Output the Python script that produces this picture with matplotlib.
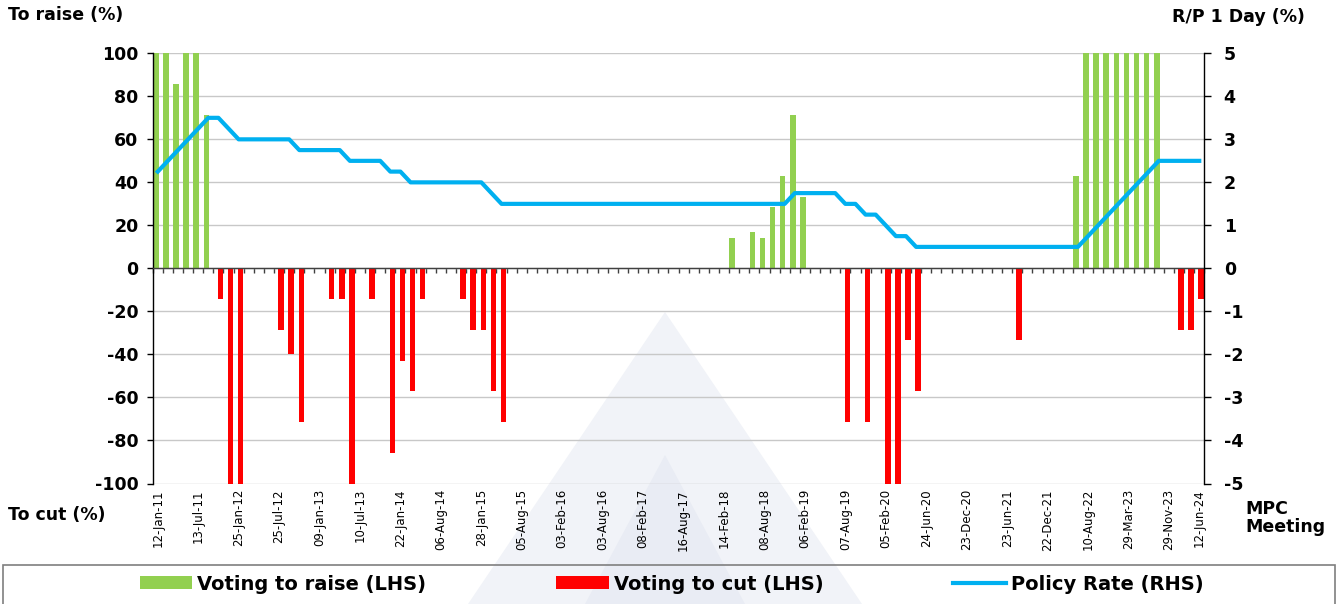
import matplotlib
matplotlib.use("Agg")
import matplotlib.pyplot as plt
from matplotlib.patches import Rectangle, Patch, Polygon
from matplotlib.lines import Line2D

plt.rcParams['font.family'] = ['DejaVu Sans']
plt.rcParams['axes.unicode_minus'] = False

# ---------------- data ----------------
# MPC meetings (104 meetings, Jan-2011 .. Jun-2024); labels shown at these meeting indices
label_index = [0, 4, 8, 12, 16, 20, 24, 28, 32, 36, 40, 44, 48, 52, 56, 60, 64,
               68, 72, 76, 80, 84, 88, 92, 96, 100, 103]
label_text = ['12-Jan-11', '13-Jul-11', '25-Jan-12', '25-Jul-12', '09-Jan-13', '10-Jul-13',
              '22-Jan-14', '06-Aug-14', '28-Jan-15', '05-Aug-15', '03-Feb-16', '03-Aug-16',
              '08-Feb-17', '16-Aug-17', '14-Feb-18', '08-Aug-18', '06-Feb-19', '07-Aug-19',
              '05-Feb-20', '24-Jun-20', '23-Dec-20', '23-Jun-21', '22-Dec-21', '10-Aug-22',
              '29-Mar-23', '29-Nov-23', '12-Jun-24']

# share of MPC members voting to raise (%)
voting_raise = [
    100, 100, 85.7, 100, 100, 71.4, 0, 0, 0, 0,          # 0-9
    0, 0, 0, 0, 0, 0, 0, 0, 0, 0,                        # 10-19
    0, 0, 0, 0, 0, 0, 0, 0, 0, 0,                        # 20-29
    0, 0, 0, 0, 0, 0, 0, 0, 0, 0,                        # 30-39
    0, 0, 0, 0, 0, 0, 0, 0, 0, 0,                        # 40-49
    0, 0, 0, 0, 0, 0, 0, 14.3, 0, 16.7,                  # 50-59
    14.3, 28.6, 42.9, 71.4, 33.3, 0, 0, 0, 0, 0,         # 60-69
    0, 0, 0, 0, 0, 0, 0, 0, 0, 0,                        # 70-79
    0, 0, 0, 0, 0, 0, 0, 0, 0, 0,                        # 80-89
    0, 42.9, 100, 100, 100, 100, 100, 100, 100, 100,     # 90-99
    0, 0, 0, 0]                                          # 100-103

# share of MPC members voting to cut (%, shown negative)
voting_cut = [
    0, 0, 0, 0, 0, 0, -14.3, -100, -100, 0,              # 0-9
    0, 0, -28.6, -40, -71.4, 0, 0, -14.3, -14.3, -100,   # 10-19
    0, -14.3, 0, -85.7, -42.9, -57.1, -14.3, 0, 0, 0,    # 20-29
    -14.3, -28.6, -28.6, -57.1, -71.4, 0, 0, 0, 0, 0,    # 30-39
    0, 0, 0, 0, 0, 0, 0, 0, 0, 0,                        # 40-49
    0, 0, 0, 0, 0, 0, 0, 0, 0, 0,                        # 50-59
    0, 0, 0, 0, 0, 0, 0, 0, -71.4, 0,                    # 60-69
    -71.4, 0, -100, -100, -33.3, -57.1, 0, 0, 0, 0,      # 70-79
    0, 0, 0, 0, 0, -33.3, 0, 0, 0, 0,                    # 80-89
    0, 0, 0, 0, 0, 0, 0, 0, 0, 0,                        # 90-99
    0, -28.6, -28.6, -14.3]                              # 100-103

# policy rate, R/P 1 day (%)
policy_rate = [
    2.25, 2.5, 2.75, 3.0, 3.25, 3.5, 3.5, 3.25, 3.0, 3.0,      # 0-9
    3.0, 3.0, 3.0, 3.0, 2.75, 2.75, 2.75, 2.75, 2.75, 2.5,     # 10-19
    2.5, 2.5, 2.5, 2.25, 2.25, 2.0, 2.0, 2.0, 2.0, 2.0,        # 20-29
    2.0, 2.0, 2.0, 1.75, 1.5, 1.5, 1.5, 1.5, 1.5, 1.5,         # 30-39
    1.5, 1.5, 1.5, 1.5, 1.5, 1.5, 1.5, 1.5, 1.5, 1.5,          # 40-49
    1.5, 1.5, 1.5, 1.5, 1.5, 1.5, 1.5, 1.5, 1.5, 1.5,          # 50-59
    1.5, 1.5, 1.5, 1.75, 1.75, 1.75, 1.75, 1.75, 1.5, 1.5,     # 60-69
    1.25, 1.25, 1.0, 0.75, 0.75, 0.5, 0.5, 0.5, 0.5, 0.5,      # 70-79
    0.5, 0.5, 0.5, 0.5, 0.5, 0.5, 0.5, 0.5, 0.5, 0.5,          # 80-89
    0.5, 0.5, 0.75, 1.0, 1.25, 1.5, 1.75, 2.0, 2.25, 2.5,      # 90-99
    2.5, 2.5, 2.5, 2.5]                                        # 100-103

left_ticks = [-100, -80, -60, -40, -20, 0, 20, 40, 60, 80, 100]
right_ticks = [-5, -4, -3, -2, -1, 0, 1, 2, 3, 4, 5]

# ---------------- styling ----------------
GREEN = '#92D050'
RED = '#FF0000'
BLUE = '#00B0F0'
GRID = '#c8c8c8'

W, H = 1343, 604
fig = plt.figure(figsize=(W / 100, H / 100), dpi=100)
fig.patch.set_facecolor('white')

# very faint watermark in the background
wm_outer = Polygon([(665 / W, 1 - 312 / H), (468 / W, 0), (862 / W, 0)],
                   closed=True, transform=fig.transFigure, facecolor='#f1f3f8',
                   edgecolor='none', zorder=-10)
wm_inner = Polygon([(665 / W, 1 - 455 / H), (585 / W, 0), (745 / W, 0)],
                   closed=True, transform=fig.transFigure, facecolor='#e9ecf4',
                   edgecolor='none', zorder=-9)
fig.patches.extend([wm_outer, wm_inner])

L, R, T, B = 152.7, 1204.3, 53.3, 483.5
ax = fig.add_axes([L / W, 1 - B / H, (R - L) / W, (B - T) / H])
ax.patch.set_visible(False)

n = len(policy_rate)
xs = list(range(n))
bw = 0.55
ax.bar([x - 0.2 for x in xs], voting_raise, width=bw, color=GREEN, zorder=2)
ax.bar([x + 0.2 for x in xs], voting_cut, width=bw, color=RED, zorder=2)

ax.set_xlim(-0.5, n - 0.5)
ax.set_ylim(-100, 100)
ax.set_yticks(left_ticks)
ax.grid(axis='y', color=GRID, lw=1)
ax.set_axisbelow(True)

for s in ['top', 'right']:
    ax.spines[s].set_visible(False)
ax.spines['left'].set_color('black')
ax.spines['left'].set_linewidth(1)
ax.spines['bottom'].set_position(('data', 0))
ax.spines['bottom'].set_color('#404040')
ax.spines['bottom'].set_linewidth(1)
ax.spines['bottom'].set_zorder(3)

ax.set_xticks([])
ax.set_xticks([x - 0.5 for x in range(n + 1)], minor=True)
ax.tick_params(axis='x', which='minor', direction='out', length=3.5, width=1, color='#404040')
ax.tick_params(axis='y', direction='out', length=4.3, width=1, pad=6, labelsize=12.5)
for lbl in ax.get_yticklabels():
    lbl.set_fontweight('bold')

xt = ax.get_xaxis_transform()
for idx, txt in zip(label_index, label_text):
    ax.text(idx, -0.013, txt, transform=xt, rotation=90, ha='center', va='top',
            fontsize=8.5, color='black')

ax2 = ax.twinx()
ax2.plot(xs, policy_rate, color=BLUE, lw=3, solid_joinstyle='round', zorder=4)
ax2.set_ylim(-5, 5)
ax2.set_yticks(right_ticks)
for s in ['top', 'left', 'bottom']:
    ax2.spines[s].set_visible(False)
ax2.spines['right'].set_color('black')
ax2.spines['right'].set_linewidth(1)
ax2.tick_params(axis='y', direction='out', length=5, width=1, pad=9, labelsize=12.5)
for lbl in ax2.get_yticklabels():
    lbl.set_fontweight('bold')
ax2.set_xlim(-0.5, n - 0.5)

# axis titles
fig.text(8 / W, 1 - 15 / H, 'To raise (%)', fontsize=12.5, fontweight='bold', va='center', ha='left')
fig.text(1172 / W, 1 - 17 / H, 'R/P 1 Day (%)', fontsize=12.5, fontweight='bold', va='center', ha='left')
fig.text(8 / W, 1 - 515 / H, 'To cut (%)', fontsize=12.5, fontweight='bold', va='center', ha='left')
fig.text(1245 / W, 1 - 518 / H, 'MPC\nMeeting', fontsize=12.5, fontweight='bold', va='center',
         ha='left', linespacing=1.0)

# legend frame and legend
frame = Rectangle((3 / W, -0.02), (1335 - 3) / W, 0.02 + (604 - 565) / H,
                  transform=fig.transFigure, fill=False, edgecolor='#7f7f7f', lw=1.2)
fig.patches.append(frame)

handles = [Patch(facecolor=GREEN, edgecolor='none'),
           Patch(facecolor=RED, edgecolor='none'),
           Line2D([], [], color=BLUE, lw=3)]
labels = ['Voting to raise (LHS)', 'Voting to cut (LHS)', 'Policy Rate (RHS)']
fig.legend(handles, labels, ncol=3, loc='center', bbox_to_anchor=(0.5, 1 - 584 / H),
           frameon=False, prop={'weight': 'bold', 'size': 14}, handlelength=2.7,
           handleheight=0.65, handletextpad=0.25, columnspacing=6.7)

fig.savefig('out.png', dpi=100, facecolor='white')
